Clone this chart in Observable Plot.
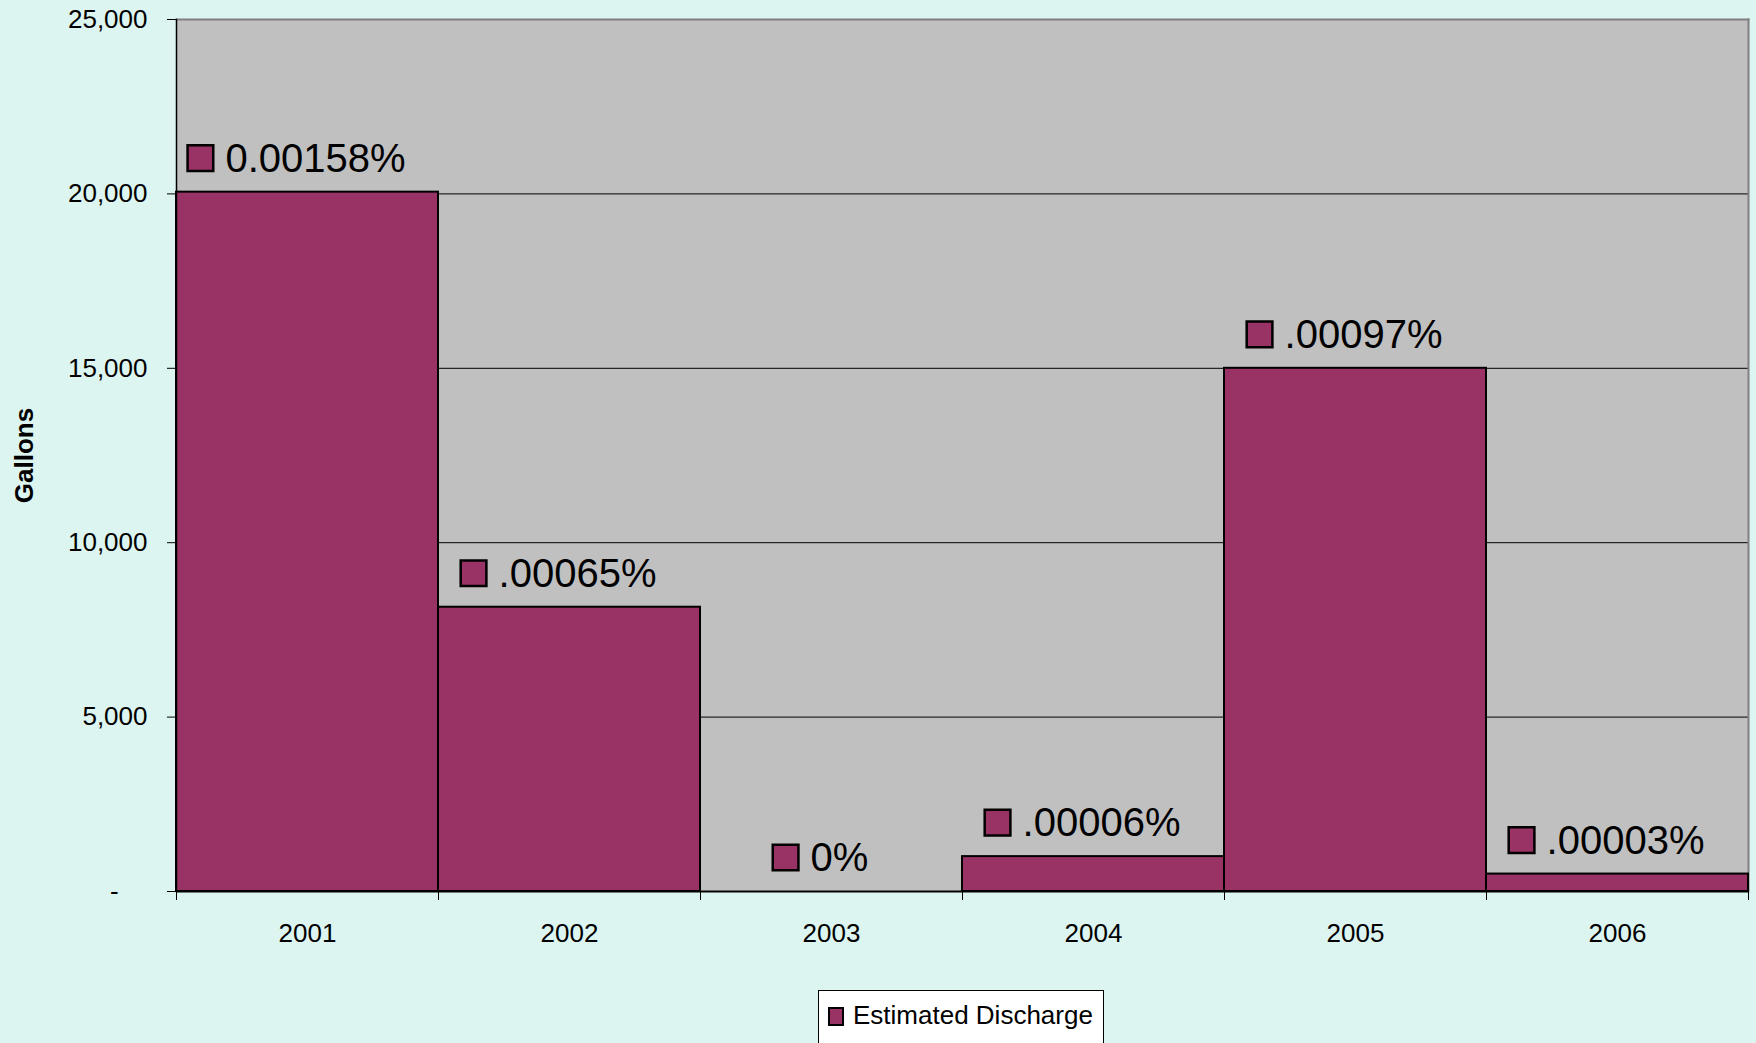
<!DOCTYPE html>
<html>
<head>
<meta charset="utf-8">
<script src="https://cdn.jsdelivr.net/npm/d3@7"></script>
<script src="https://cdn.jsdelivr.net/npm/@observablehq/plot@0.6"></script>
<style>
html, body { margin: 0; padding: 0; background: #DDF5F1; width: 1756px; height: 1043px; overflow: hidden; font-family: "Liberation Sans", Arial, sans-serif; }
#chart { position: absolute; left: 0; top: 0; }
#legend { position: absolute; left: 818px; top: 990px; width: 286px; height: 62px; background: #fff; border: 1px solid #000; box-sizing: border-box; }
#legend .key { position: absolute; left: 9px; top: 16px; width: 12px; height: 15px; background: #993366; border: 2px solid #000; }
#legend .txt { position: absolute; left: 34px; top: 9px; font-size: 26px; line-height: 30px; color: #000; white-space: nowrap; }
</style>
</head>
<body>
<div id="chart"></div>
<div id="legend"><div class="key"></div><div class="txt" id="legendText"></div></div>
<script>
const years = [2001, 2002, 2003, 2004, 2005, 2006];
const gallons = [20050, 8150, 0, 1000, 15000, 500];
const percentLabels = ["0.00158%", ".00065%", "0%", ".00006%", ".00097%", ".00003%"];
const yTicks = [0, 5000, 10000, 15000, 20000, 25000];
const seriesName = "Estimated Discharge";
const yTitle = "Gallons";

const data = years.map((year, i) => ({year, value: gallons[i], label: percentLabels[i]}));
const boundaries = [years[0] - 0.5, ...years.map(y => y + 0.5)];

const W = 1756, H = 975;
const mL = 176, mR = 8, mT = 19, mB = 84;
const pxPerYear = (W - mL - mR) / years.length;

const ctx = document.createElement("canvas").getContext("2d");
ctx.font = "40px 'Liberation Sans'";
const textW = s => ctx.measureText(s).width;
const labelDx = 8, labelDy = -33;

document.getElementById("legendText").textContent = seriesName;

const fmt = d3.format(",");
const chart = Plot.plot({
  width: W, height: H,
  marginLeft: mL, marginRight: mR, marginTop: mT, marginBottom: mB,
  style: {fontFamily: "'Liberation Sans', Arial, sans-serif", background: "transparent", color: "#000"},
  x: {type: "linear", domain: [boundaries[0], boundaries[boundaries.length - 1]]},
  y: {domain: [0, 25000]},
  marks: [
    Plot.frame({fill: "#C0C0C0"}),
    Plot.ruleY(yTicks.slice(1, -1), {stroke: "#000", strokeWidth: 1}),
    Plot.frame({anchor: "top", stroke: "#808080", strokeWidth: 2}),
    Plot.frame({anchor: "right", stroke: "#808080", strokeWidth: 2}),
    Plot.rectY(data, {x1: d => d.year - 0.5, x2: d => d.year + 0.5, y: "value", fill: "#993366", stroke: "#000", strokeWidth: 2}),
    Plot.ruleY([0], {stroke: "#000", strokeWidth: 2}),
    Plot.frame({anchor: "left", stroke: "#000", strokeWidth: 1.5}),
    Plot.axisY({ticks: yTicks, tickSize: 9, tickPadding: 20, fontSize: 26, label: null,
      tickFormat: d => d === 0 ? "-\u00a0\u00a0\u00a0\u00a0" : fmt(d)}),
    Plot.axisX({ticks: boundaries, tickSize: 9, tickFormat: () => "", label: null}),
    Plot.axisX({ticks: years, tickSize: 0, tickPadding: 32, fontSize: 26, label: null, tickFormat: d => String(d)}),
    Plot.text([yTitle], {frameAnchor: "left", dx: -152, rotate: -90, fontWeight: "bold", fontSize: 26, textAnchor: "middle", lineAnchor: "middle"}),
    Plot.dot(data, {
      x: d => d.year + (labelDx - textW(d.label) / 2 - 25) / pxPerYear,
      y: "value", dy: labelDy - 1, symbol: "square", r: 14.5,
      fill: "#993366", stroke: "#000", strokeWidth: 2.5
    }),
    Plot.text(data, {x: "year", y: "value", text: "label", dx: labelDx, dy: labelDy, fontSize: 40, textAnchor: "middle", lineAnchor: "middle", fill: "#000"})
  ]
});
document.getElementById("chart").appendChild(chart);
</script>
</body>
</html>
